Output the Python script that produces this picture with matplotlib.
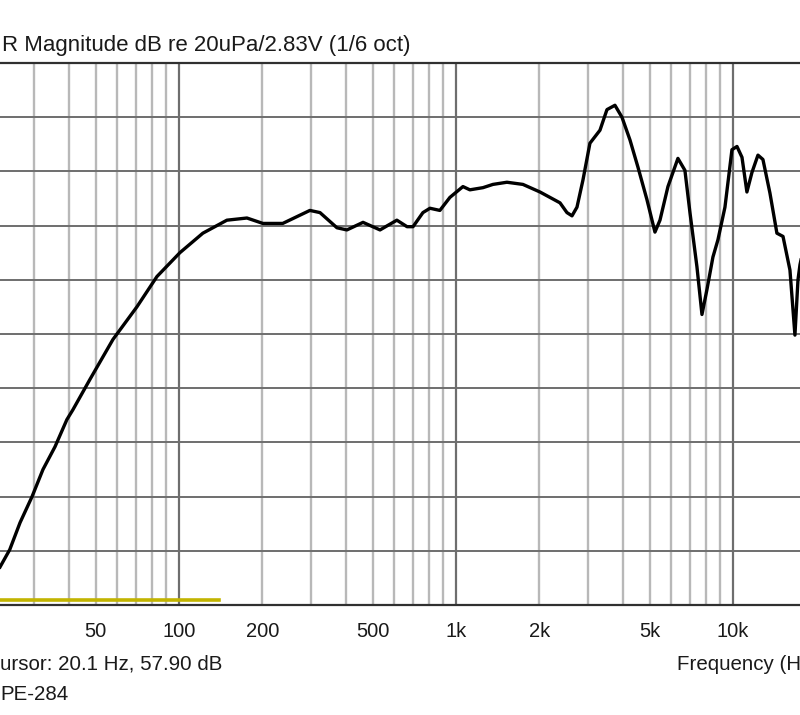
import matplotlib
matplotlib.use("Agg")
import matplotlib.pyplot as plt
import matplotlib.transforms as mtransforms

plt.rcParams['font.family'] = ['Liberation Sans', 'DejaVu Sans']

# measured response (1/6 oct smoothed), Hz / dB
freq = [22.6, 24.5, 26.7, 29.5, 32.3, 35.7, 39.4, 41.4, 47.7, 57.8, 70.5, 83.3,
        100.8, 122, 149, 176, 201, 237, 297, 323, 372, 404, 462, 532, 612, 666,
        700, 760, 806, 875, 951, 1060, 1123, 1252, 1360, 1528, 1745, 2011, 2375,
        2516, 2624, 2735, 2874, 3046, 3311, 3509, 3750, 3975, 4249, 4539, 4892,
        5229, 5452, 5826, 6329, 6708, 6995, 7413, 7729, 8056, 8467, 8829, 9357,
        9917, 10340, 10780, 11230, 11710, 12310, 12830, 13600, 14410, 15160,
        16060, 16740, 17170, 17460, 18000]
spl = [58.5, 60.1, 62.6, 65.0, 67.5, 69.6, 72.1, 73.0, 75.8, 79.5, 82.5, 85.3,
       87.5, 89.3, 90.5, 90.7, 90.2, 90.2, 91.4, 91.2, 89.8, 89.6, 90.3, 89.6,
       90.5, 89.9, 89.9, 91.2, 91.6, 91.4, 92.6, 93.6, 93.3, 93.5, 93.8, 94.0,
       93.8, 93.1, 92.1, 91.2, 90.9, 91.7, 94.2, 97.6, 98.8, 100.7, 101.1, 100.0,
       97.9, 95.4, 92.4, 89.4, 90.5, 93.6, 96.2, 95.1, 91.2, 86.2, 81.8, 84.1,
       87.1, 88.7, 91.7, 97.0, 97.3, 96.3, 93.1, 94.9, 96.5, 96.1, 93.0, 89.3,
       89.0, 85.9, 79.9, 85.0, 86.4, 88.0]

# second (yellow) trace, pinned at the bottom of the scale
freq2 = [15, 140]
spl2 = [55.45, 55.45]

minor_freqs = [30, 40, 50, 60, 70, 80, 90, 200, 300, 400, 500, 600, 700, 800, 900,
               2000, 3000, 4000, 5000, 6000, 7000, 8000, 9000]
major_freqs = [100, 1000, 10000]
db_lines = [60, 65, 70, 75, 80, 85, 90, 95, 100]
tick_freqs = [50, 100, 200, 500, 1000, 2000, 5000, 10000]
tick_labels = ['50', '100', '200', '500', '1k', '2k', '5k', '10k']

fig = plt.figure(figsize=(8, 7.15), dpi=100)
ax = fig.add_axes([0, 1 - 605 / 715, 1, 542 / 715])
ax.set_xscale('log')
ax.set_xlim(22.6, 17460)
ax.set_ylim(55, 105)

for f in minor_freqs:
    ax.axvline(f, color='#b8b8b8', lw=1.7, zorder=1)
for f in major_freqs:
    ax.axvline(f, color='#6e6e6e', lw=1.6, zorder=1)
for d in db_lines:
    ax.axhline(d, color='#6e6e6e', lw=1.4, zorder=1)

ax.plot(freq2, spl2, color='#c2b400', lw=2.6, zorder=2)
ax.plot(freq, spl, color='black', lw=2.4, zorder=3)

for s in ['left', 'right']:
    ax.spines[s].set_visible(False)
for s in ['top', 'bottom']:
    ax.spines[s].set_color('#303030')
    ax.spines[s].set_linewidth(1.6)

ax.set_yticks([])
ax.minorticks_off()
ax.set_xticks(tick_freqs)
ax.set_xticklabels(tick_labels)
ax.tick_params(axis='x', length=0, pad=12, labelsize=14.5, labelcolor='#1a1a1a')

# 20k label sits past the right edge, only partly visible
trans = mtransforms.blended_transform_factory(ax.transData, ax.transAxes)
ax.text(20000, -0.047, '20k', transform=trans, ha='center', va='center',
        fontsize=14.5, color='#1a1a1a', clip_on=False)

fig.text(2 / 800, 1 - 45 / 715, 'R Magnitude dB re 20uPa/2.83V (1/6 oct)',
         ha='left', va='center', fontsize=16, color='#1a1a1a')
fig.text(0, 1 - 664 / 715, 'ursor: 20.1 Hz, 57.90 dB',
         ha='left', va='center', fontsize=14.8, color='#1a1a1a')
fig.text(0, 1 - 694 / 715, 'PE-284',
         ha='left', va='center', fontsize=14.8, color='#1a1a1a')
fig.text(677 / 800, 1 - 664 / 715, 'Frequency (Hz)',
         ha='left', va='center', fontsize=14.8, color='#1a1a1a')

fig.savefig('out.png', dpi=100)
